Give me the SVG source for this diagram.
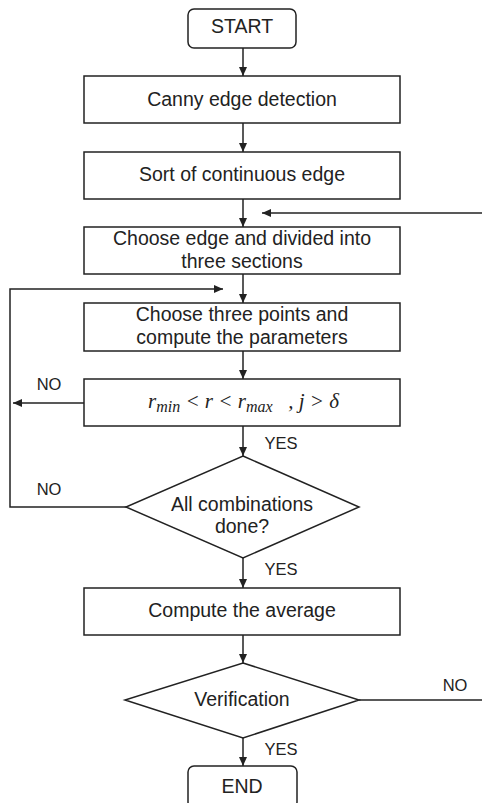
<svg xmlns="http://www.w3.org/2000/svg" width="482" height="803" viewBox="0 0 482 803">
<style>
.box{fill:#fff;stroke:#222;stroke-width:1.5}
.t{font-family:"Liberation Sans",Arial,sans-serif;font-size:19.5px;fill:#222;text-anchor:middle}
.lbl{font-family:"Liberation Sans",Arial,sans-serif;font-size:16.5px;fill:#222;text-anchor:middle}
.m{font-family:"Liberation Serif","Times New Roman",serif;font-style:italic;font-size:21px;fill:#222}
.c{fill:none;stroke:#222;stroke-width:1.5}
</style>
<defs>
<marker id="ah" markerWidth="10" markerHeight="8" refX="9" refY="4" orient="auto" markerUnits="userSpaceOnUse">
<path d="M0,0 L9,4 L0,8 Z" fill="#222"/>
</marker>
</defs>
<rect width="482" height="803" fill="#fff"/>
<g id="connectors">
<line class="c" x1="243" y1="48" x2="243" y2="76" marker-end="url(#ah)"/>
<line class="c" x1="243" y1="123" x2="243" y2="152" marker-end="url(#ah)"/>
<line class="c" x1="243" y1="199" x2="243" y2="227" marker-end="url(#ah)"/>
<line class="c" x1="482" y1="213" x2="262" y2="213" marker-end="url(#ah)"/>
<line class="c" x1="243" y1="274" x2="243" y2="303" marker-end="url(#ah)"/>
<polyline class="c" points="126,507 10,507 10,289 223,289" marker-end="url(#ah)"/>
<line class="c" x1="243" y1="351" x2="243" y2="379" marker-end="url(#ah)"/>
<line class="c" x1="84" y1="403" x2="13" y2="403" marker-end="url(#ah)"/>
<line class="c" x1="243" y1="426" x2="243" y2="456" marker-end="url(#ah)"/>
<line class="c" x1="243" y1="558" x2="243" y2="588" marker-end="url(#ah)"/>
<line class="c" x1="243" y1="635" x2="243" y2="663" marker-end="url(#ah)"/>
<line class="c" x1="359" y1="700" x2="482" y2="700"/>
<line class="c" x1="243" y1="738" x2="243" y2="766" marker-end="url(#ah)"/>
<text class="lbl" x="49" y="390">NO</text>
<text class="lbl" x="281" y="449">YES</text>
<text class="lbl" x="49" y="495">NO</text>
<text class="lbl" x="281" y="575">YES</text>
<text class="lbl" x="455" y="691">NO</text>
<text class="lbl" x="281" y="755">YES</text>
</g>
<g id="start">
<rect class="box" x="188" y="9" width="108" height="39" rx="6"/>
<text class="t" x="242" y="33">START</text>
</g>
<g id="canny">
<rect class="box" x="84" y="76" width="316" height="47"/>
<text class="t" x="242" y="106">Canny edge detection</text>
</g>
<g id="sort">
<rect class="box" x="84" y="152" width="316" height="47"/>
<text class="t" x="242" y="181">Sort of continuous edge</text>
</g>
<g id="choose-edge">
<rect class="box" x="84" y="227" width="316" height="47"/>
<text class="t" x="242" y="245">Choose edge and divided into</text>
<text class="t" x="242" y="268">three sections</text>
</g>
<g id="choose-points">
<rect class="box" x="84" y="303" width="316" height="48"/>
<text class="t" x="242" y="321">Choose three points and</text>
<text class="t" x="242" y="344">compute the parameters</text>
</g>
<g id="condition">
<rect class="box" x="84" y="379" width="316" height="47"/>
<text class="m" x="148" y="408">r<tspan font-size="16" dy="4">min</tspan><tspan dy="-4"> &lt; r &lt; r</tspan><tspan font-size="16" dy="4">max</tspan><tspan dy="-4" xml:space="preserve">   , j &gt; δ</tspan></text>
</g>
<g id="all-done">
<polygon class="box" points="243,456 359,507 243,558 126,507"/>
<text class="t" x="242" y="511">All combinations</text>
<text class="t" x="242" y="533">done?</text>
</g>
<g id="average">
<rect class="box" x="84" y="588" width="316" height="47"/>
<text class="t" x="242" y="617">Compute the average</text>
</g>
<g id="verification">
<polygon class="box" points="243,663 359,700 243,738 125,700"/>
<text class="t" x="242" y="706">Verification</text>
</g>
<g id="end">
<rect class="box" x="188" y="766" width="109" height="42" rx="6"/>
<text class="t" x="242" y="793">END</text>
</g>
</svg>
